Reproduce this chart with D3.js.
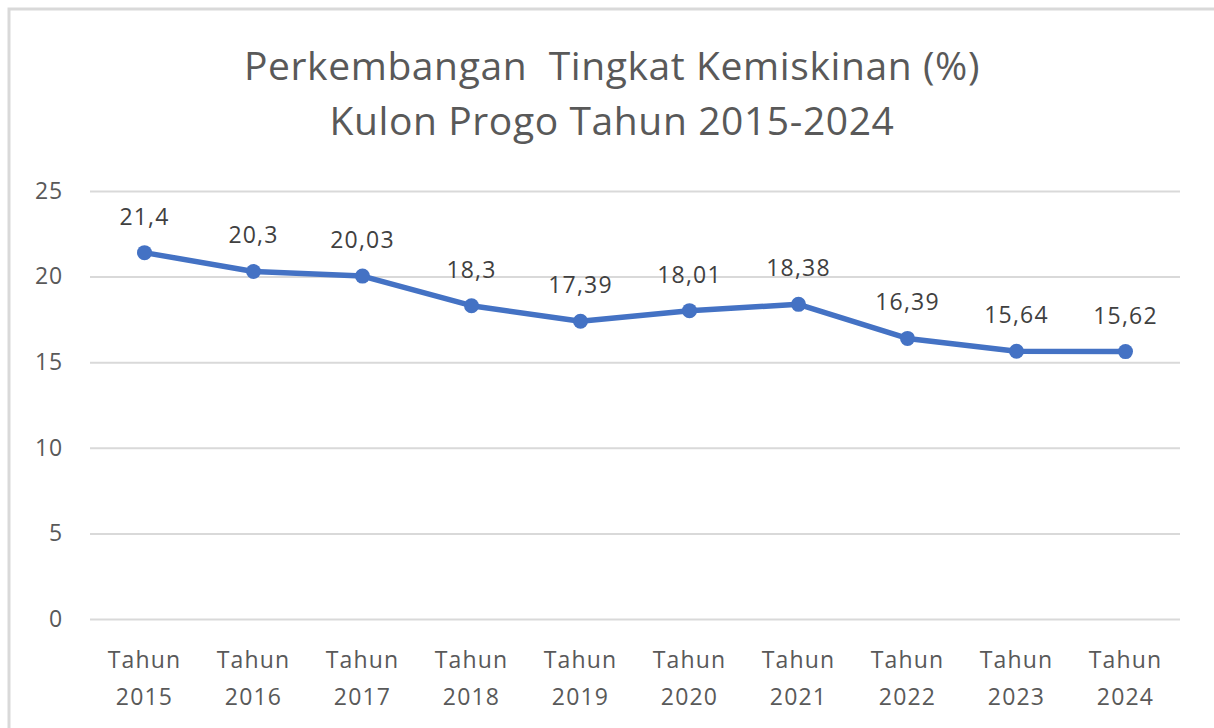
<!DOCTYPE html>
<html><head><meta charset="utf-8">
<script src="https://cdn.jsdelivr.net/npm/d3@7"></script>
<style>body{margin:0;background:#fff;}svg{display:block;font-family:"Open Sans","Noto Sans",sans-serif;}</style>
</head><body><svg id="c" width="1214" height="728"></svg>
<script>
const years = ["2015","2016","2017","2018","2019","2020","2021","2022","2023","2024"];
const values = [21.4,20.3,20.03,18.3,17.39,18.01,18.38,16.39,15.64,15.62];
const valueLabels = ["21,4","20,3","20,03","18,3","17,39","18,01","18,38","16,39","15,64","15,62"];
const yTicks = [0,5,10,15,20,25];
const titleLines = ["Perkembangan  Tingkat Kemiskinan (%)","Kulon Progo Tahun 2015-2024"];
const FONT = "'Open Sans', 'Noto Sans', sans-serif";

const svg = d3.select("#c");
svg.append("rect").attr("x",9).attr("y",9).attr("width",1220).attr("height",740)
  .attr("fill","#fff").attr("stroke","#d9d9d9").attr("stroke-width",3);

const x = d3.scaleBand().domain(years).range([90,1180]);
const y = d3.scaleLinear().domain([0,25]).range([619,191]);

const yAxis = svg.append("g").attr("transform","translate(90,0)")
  .call(d3.axisLeft(y).tickValues(yTicks).tickSize(-1090).tickPadding(27));
yAxis.attr("font-family",FONT).attr("font-size",null);
yAxis.select(".domain").remove();
yAxis.selectAll("line").attr("stroke","#d9d9d9").attr("stroke-width",2);
yAxis.selectAll("text").attr("fill","#595959").style("font-size","23px").style("letter-spacing","0.8px");

const xAxis = svg.append("g").attr("transform","translate(0,619)")
  .call(d3.axisBottom(x).tickSize(0).tickFormat(""));
xAxis.attr("font-family",FONT).attr("font-size",null);
xAxis.select(".domain").remove();
xAxis.selectAll(".tick").each(function(d){
  const t = d3.select(this).append("text").attr("fill","#595959").attr("text-anchor","middle")
    .style("font-size","23px").style("letter-spacing","1.2px");
  t.append("tspan").attr("x",0).attr("y",49).text("Tahun");
  t.append("tspan").attr("x",0).attr("y",86).text(d);
});

const cx = d => x(d) + x.bandwidth()/2;
const line = d3.line().x((d,i)=>cx(years[i])).y(d=>y(d));
svg.append("path").datum(values).attr("d",line).attr("fill","none")
  .attr("stroke","#4472C4").attr("stroke-width",5.5).attr("stroke-linejoin","round");
svg.selectAll("circle.p").data(values).join("circle").attr("class","p")
  .attr("cx",(d,i)=>cx(years[i])).attr("cy",d=>y(d)).attr("r",7.5).attr("fill","#4472C4");
svg.selectAll("text.lbl").data(values).join("text").attr("class","lbl")
  .attr("x",(d,i)=>cx(years[i])).attr("y",d=>y(d)-28).attr("text-anchor","middle")
  .attr("fill","#404040").style("font-size","23px").style("letter-spacing","1.2px")
  .text((d,i)=>valueLabels[i]);

svg.selectAll("text.title").data(titleLines).join("text").attr("class","title")
  .attr("x",612).attr("y",(d,i)=>80+i*55).attr("text-anchor","middle")
  .attr("fill","#595959").style("font-size","39px").style("letter-spacing","0.6px").style("white-space","pre")
  .attr("xml:space","preserve").text(d=>d);
</script></body></html>
